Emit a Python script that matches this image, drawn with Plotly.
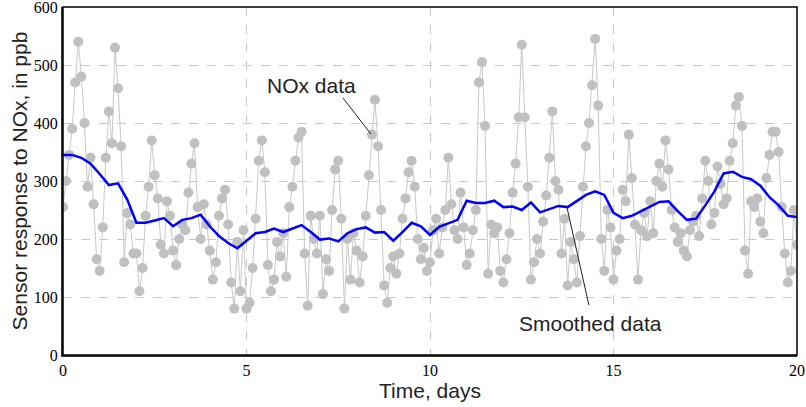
import numpy as np
import plotly.graph_objects as go

# NOx sensor readings, one value every 2 hours (12 per day), days 0..20
nox_day = [
    [255, 300, 345, 390, 470, 540, 480, 400, 290, 340, 260, 165],
    [145, 220, 340, 420, 365, 530, 460, 360, 160, 245, 225, 175],
    [175, 110, 150, 240, 290, 370, 310, 270, 190, 175, 265, 240],
    [180, 155, 200, 225, 215, 280, 330, 365, 255, 200, 260, 225],
    [180, 130, 160, 240, 270, 285, 225, 125, 80, 195, 110, 215],
    [80, 90, 150, 235, 335, 370, 315, 155, 110, 130, 195, 170],
    [210, 135, 255, 290, 335, 375, 385, 175, 85, 240, 200, 175],
    [240, 105, 165, 145, 250, 320, 335, 235, 80, 200, 130, 210],
    [180, 125, 170, 240, 310, 380, 440, 360, 250, 120, 90, 150],
    [170, 140, 175, 235, 270, 315, 335, 290, 200, 165, 185, 145],
    [160, 215, 235, 175, 220, 250, 340, 260, 215, 200, 280, 220],
    [155, 175, 215, 250, 470, 505, 395, 140, 225, 210, 220, 145],
    [125, 165, 210, 280, 330, 410, 535, 410, 290, 130, 160, 200],
    [175, 230, 275, 340, 420, 300, 285, 175, 235, 120, 195, 165],
    [125, 205, 290, 360, 400, 465, 545, 430, 200, 145, 250, 220],
    [130, 180, 200, 285, 265, 380, 305, 225, 130, 215, 245, 205],
    [265, 210, 300, 330, 290, 370, 320, 250, 220, 195, 210, 180],
    [170, 215, 230, 240, 205, 270, 335, 300, 225, 245, 325, 295],
    [260, 270, 335, 365, 430, 445, 395, 180, 140, 265, 255, 270],
    [230, 210, 305, 345, 385, 385, 350, 255, 175, 125, 145, 250],
    [190],
]
nox = [v for day in nox_day for v in day]
sample_hours = 2
t_nox = np.arange(len(nox)) * sample_hours / 24.0

# Smoothed curve, read every quarter day
t_smooth = [i * 0.25 for i in range(81)]
smooth = [
    345, 345, 340, 330, 312, 293, 296, 268, 228, 228, 232, 236,
    222, 233, 236, 242, 222, 205, 193, 184, 197, 210, 212, 218,
    212, 218, 224, 212, 199, 201, 196, 210, 217, 220, 211, 212,
    197, 212, 228, 222, 207, 221, 227, 233, 266, 262, 262, 266,
    255, 256, 250, 263, 246, 252, 257, 255, 265, 276, 282, 276,
    245, 236, 240, 248, 256, 264, 265, 248, 233, 235, 258, 282,
    313, 316, 307, 303, 292, 272, 258, 240, 238,
]

x_ticks = [0, 5, 10, 15, 20]
y_ticks = [0, 100, 200, 300, 400, 500, 600]

SERIF = "Liberation Serif, Times New Roman, serif"
SANS = "Liberation Sans, Arial, sans-serif"

fig = go.Figure()
fig.add_trace(go.Scatter(
    x=t_nox, y=nox, mode="lines+markers",
    line=dict(color="#c8c8c8", width=1),
    marker=dict(color="#c0c0c0", size=10),
    name="NOx data", showlegend=False,
))
fig.add_trace(go.Scatter(
    x=t_smooth, y=smooth, mode="lines",
    line=dict(color="#0000ff", width=2.5),
    name="Smoothed data", showlegend=False,
))

grid = dict(showgrid=True, gridcolor="#c8c8c8", gridwidth=1, griddash="dash")
fig.update_xaxes(
    range=[0, 20], tickvals=x_ticks, zeroline=False, automargin=False,
    showline=True, linecolor="#333333", linewidth=2, ticklabeloverflow="allow",
    ticks="", ticklen=0, tickfont=dict(family=SERIF, size=16, color="black"),
    title=dict(text="Time, days", font=dict(family=SANS, size=21, color="#222"), standoff=4),
    **grid,
)
fig.update_yaxes(
    range=[0, 600], tickvals=y_ticks, zeroline=False, automargin=False,
    showline=True, linecolor="#333333", linewidth=2, ticklabeloverflow="allow",
    ticks="", ticklen=0, tickfont=dict(family=SERIF, size=16, color="black"),
    title=dict(text="Sensor response to NOx, in ppb", font=dict(family=SANS, size=21, color="#222"), standoff=0),
    **grid,
)
fig.add_shape(type="rect", xref="x domain", yref="y domain", x0=0, x1=1, y0=0, y1=1,
              line=dict(color="black", width=1.5), layer="above")

# callout lines
fig.add_shape(type="line", xref="x", yref="y", x0=7.63, y0=443, x1=8.39, y1=381,
              line=dict(color="#222", width=1), layer="above")
fig.add_shape(type="line", xref="x", yref="y", x0=14.33, y0=86, x1=13.73, y1=255,
              line=dict(color="#222", width=1), layer="above")
fig.add_annotation(x=6.76, y=465, xref="x", yref="y", text="NOx data", showarrow=False,
                   font=dict(family=SANS, size=21, color="#222"))
fig.add_annotation(x=14.36, y=55, xref="x", yref="y", text="Smoothed data", showarrow=False,
                   font=dict(family=SANS, size=21, color="#222"))

fig.update_layout(
    width=806, height=407,
    margin=dict(l=63, r=9, t=7, b=52),
    plot_bgcolor="white", paper_bgcolor="white",
)
fig.write_html("out.html", config={"displayModeBar": False},
               post_script="document.body.style.margin='0';")
